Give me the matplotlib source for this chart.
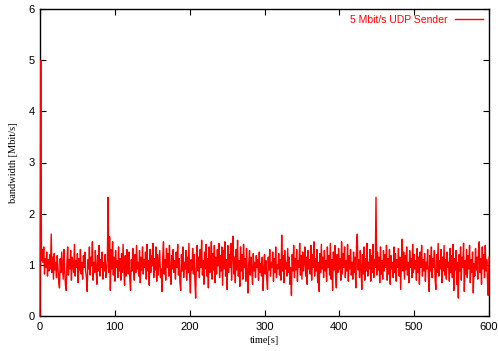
import matplotlib
matplotlib.use("Agg")
import matplotlib.pyplot as plt
import numpy as np

series_label = "5 Mbit/s UDP Sender"
x_label = "time[s]"
y_label = "bandwidth [Mbit/s]"
x_ticks = [0, 100, 200, 300, 400, 500, 600]
y_ticks = [0, 1, 2, 3, 4, 5, 6]

bandwidth = [
    0.00, 5.00, 1.08, 1.30, 1.05, 1.35, 0.82, 1.12, 0.95, 1.25, 0.78, 1.10, 0.88, 1.20, 0.92, 1.60, 0.85, 1.15, 0.72, 1.22,
    0.90, 1.05, 0.75, 1.18, 0.95, 0.68, 0.55, 1.12, 0.85, 1.25, 0.98, 0.72, 1.30, 0.88, 0.60, 0.50, 1.05, 1.35, 0.80, 1.10,
    0.92, 1.28, 0.70, 1.15, 1.00, 0.85, 1.40, 0.78, 1.08, 0.95, 1.22, 0.65, 1.12, 0.90, 1.30, 0.82, 1.05, 0.72, 1.18, 0.95,
    1.25, 0.88, 0.75, 0.48, 1.10, 0.92, 1.35, 0.80, 1.15, 0.98, 1.45, 0.70, 1.05, 0.85, 1.28, 0.92, 0.62, 1.18, 0.88, 1.38,
    0.78, 1.10, 0.95, 1.25, 0.72, 1.05, 0.88, 1.20, 0.75, 0.90, 1.12, 2.32, 0.85, 1.55, 0.50, 1.30, 0.92, 1.45, 0.80, 1.15,
    0.68, 1.28, 0.95, 1.08, 0.75, 1.35, 0.88, 1.12, 0.70, 1.22, 0.85, 1.40, 0.92, 0.60, 1.18, 0.78, 1.30, 1.00, 0.82, 1.25,
    0.72, 0.50, 1.10, 0.88, 1.32, 0.95, 0.70, 1.20, 0.85, 1.38, 0.92, 1.05, 0.78, 1.28, 0.65, 1.15, 0.90, 1.35, 0.82, 1.10,
    0.95, 1.25, 0.72, 1.40, 0.88, 1.08, 0.60, 1.30, 0.85, 1.18, 0.98, 1.42, 0.75, 1.12, 0.90, 1.35, 0.68, 1.20, 0.80, 1.05,
    1.28, 0.75, 0.92, 0.48, 1.15, 1.45, 0.82, 1.10, 0.70, 1.32, 0.95, 1.22, 0.78, 1.38, 0.88, 0.62, 1.18, 0.92, 1.30, 0.85,
    1.08, 0.72, 1.25, 0.95, 1.40, 0.80, 1.12, 0.65, 0.50, 1.20, 0.88, 1.35, 0.75, 1.05, 0.92, 1.28, 0.70, 1.15, 0.85, 1.42,
    0.78, 0.45, 1.10, 0.90, 1.32, 0.82, 1.20, 0.68, 0.35, 1.05, 1.38, 0.88, 1.15, 0.75, 1.30, 0.95, 1.48, 0.80, 1.08, 0.62,
    1.25, 0.92, 1.40, 0.78, 1.12, 0.55, 1.35, 0.85, 1.05, 1.45, 0.72, 1.22, 0.90, 1.38, 0.65, 1.15, 0.82, 1.30, 0.98, 1.42,
    0.75, 1.18, 0.88, 1.35, 0.60, 1.28, 0.92, 1.45, 0.78, 1.10, 0.52, 1.38, 0.85, 1.20, 0.95, 1.42, 0.70, 1.25, 1.56, 0.82,
    1.15, 0.65, 1.30, 0.90, 1.48, 0.78, 1.08, 0.58, 1.35, 0.88, 1.20, 0.72, 1.40, 0.95, 1.12, 0.68, 1.32, 0.85, 0.45, 1.05,
    1.28, 0.80, 1.15, 0.92, 0.62, 1.22, 0.88, 1.05, 0.75, 1.18, 0.95, 1.10, 0.70, 1.25, 0.85, 1.02, 0.78, 1.15, 0.50, 0.92,
    1.20, 0.82, 1.08, 0.72, 0.52, 1.15, 0.90, 1.30, 0.78, 1.05, 0.95, 1.25, 0.68, 1.12, 0.85, 1.35, 0.75, 1.00, 0.92, 1.22,
    0.80, 1.10, 0.70, 1.58, 0.88, 1.18, 0.65, 1.28, 0.92, 1.05, 0.78, 1.32, 0.85, 1.15, 0.62, 0.95, 0.40, 1.20, 0.88, 1.38,
    0.75, 1.12, 0.90, 1.30, 0.68, 1.08, 0.95, 1.42, 0.80, 1.18, 0.72, 1.25, 0.88, 1.05, 1.35, 0.78, 1.15, 0.62, 1.28, 0.92,
    1.10, 0.82, 1.38, 0.70, 1.20, 0.95, 1.45, 0.78, 1.12, 0.88, 1.30, 0.65, 1.05, 0.48, 1.22, 0.85, 1.40, 0.92, 1.15, 0.75,
    1.28, 0.88, 1.08, 0.68, 1.35, 0.95, 1.18, 0.80, 1.42, 0.72, 1.10, 0.50, 1.25, 0.90, 1.38, 0.78, 0.55, 1.20, 0.85, 1.32,
    0.92, 1.12, 0.70, 1.45, 0.82, 1.22, 0.95, 1.35, 0.75, 1.08, 0.88, 1.40, 0.68, 1.18, 0.92, 1.30, 0.80, 1.05, 0.72, 1.25,
    0.85, 1.15, 0.55, 1.38, 1.60, 0.90, 1.10, 0.75, 1.28, 0.95, 0.52, 1.20, 0.82, 1.35, 0.70, 1.12, 0.88, 1.42, 0.78, 1.05,
    0.92, 1.30, 0.68, 1.18, 0.85, 1.40, 0.75, 1.10, 0.95, 2.32, 0.80, 1.25, 0.90, 1.15, 0.65, 1.35, 0.82, 1.08, 0.72, 1.28,
    0.88, 1.20, 0.95, 1.38, 0.70, 1.12, 0.82, 1.30, 0.62, 1.18, 0.92, 1.05, 0.75, 1.35, 0.85, 1.22, 0.68, 1.10, 0.95, 1.32,
    0.78, 1.15, 0.52, 1.08, 1.50, 0.88, 1.25, 0.72, 1.18, 0.90, 1.35, 0.80, 1.05, 0.65, 1.28, 0.95, 1.12, 0.75, 1.40, 0.85,
    1.20, 0.92, 1.08, 0.70, 1.32, 0.85, 1.15, 0.62, 1.25, 0.95, 1.38, 0.78, 1.10, 0.88, 1.22, 0.68, 1.05, 0.92, 1.30, 0.80,
    0.48, 1.18, 0.88, 1.35, 0.75, 1.12, 0.95, 1.28, 0.70, 0.52, 1.20, 0.85, 1.42, 0.78, 1.08, 0.92, 1.30, 0.65, 1.15, 0.88,
    1.38, 0.80, 1.10, 0.72, 1.25, 0.95, 1.05, 0.68, 1.32, 0.85, 1.18, 0.75, 1.40, 0.50, 1.12, 0.90, 1.28, 0.62, 1.05, 0.35,
    1.20, 0.88, 1.35, 0.70, 1.15, 0.95, 1.42, 0.48, 1.08, 0.82, 1.30, 0.75, 1.18, 0.92, 1.38, 0.65, 1.10, 0.85, 1.25, 0.45,
    1.02, 0.78, 1.32, 0.90, 1.15, 0.72, 1.28, 1.45, 0.85, 1.12, 0.62, 1.35, 0.92, 1.20, 0.75, 1.38, 0.88, 1.10, 0.68, 0.40,
    1.15,
]
time_s = list(range(len(bandwidth)))

fig = plt.figure(figsize=(4.98, 3.51), dpi=100)
ax = fig.add_axes([40/498, 1-316/351, (489-40)/498, (316-9)/351])
ax.plot(time_s, bandwidth, color="#ff0000", linewidth=1.0, label=series_label,
        zorder=3, clip_on=False)
ax.set_xlim(0, 600)
ax.set_ylim(0, 6)
ax.set_xticks(x_ticks)
ax.set_yticks(y_ticks)
ax.tick_params(direction="in", length=4, width=0.8, top=True, right=True,
               labelsize=8, pad=4, colors="black")
for lbl in ax.get_xticklabels() + ax.get_yticklabels():
    lbl.set_family("Liberation Sans")
for sp in ax.spines.values():
    sp.set_linewidth(1.0)
    sp.set_zorder(2)
ax.set_xlabel(x_label, family="Liberation Serif", fontsize=7.5, labelpad=3)
ax.set_ylabel(y_label, family="Liberation Serif", fontsize=7.5, labelpad=7)
leg = ax.legend(loc="upper right", frameon=False, markerfirst=False,
                prop={"family": "Liberation Sans", "size": 7.5},
                handlelength=2.7, handletextpad=0.7, borderaxespad=0.15,
                labelcolor="#ff0000")
fig.savefig("out.png", dpi=100)
